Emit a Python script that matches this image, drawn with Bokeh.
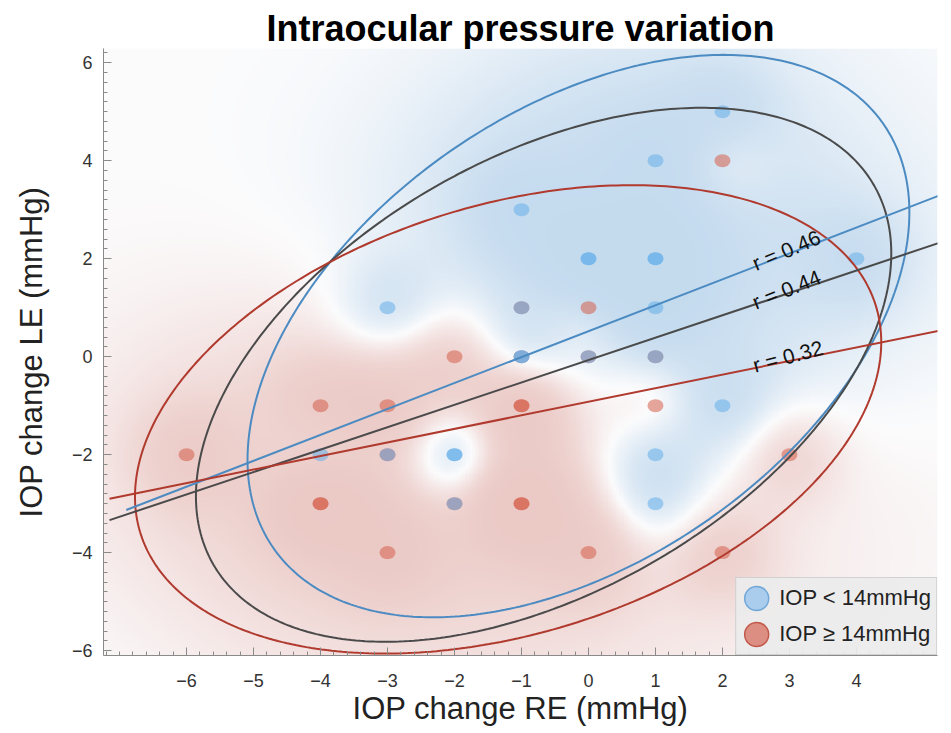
import numpy as np
from bokeh.plotting import figure
from bokeh.models import Range1d, FixedTicker, Legend, LegendItem, Label, Title
from bokeh.embed import file_html
from bokeh.resources import INLINE

# ---------------- data ----------------
blue_x = [2, 1, -1, 0, 0, 1, 1, 4, -3, -1, 1, -1, -1, 0, 1, 2, -4, -3, -2, -2, 1, -2, 1]
blue_y = [5, 4, 3, 2, 2, 2, 2, 2, 1, 1, 1, 0, 0, 0, 0, -1, -2, -2, -2, -2, -2, -3, -3]
red_x = [2, -1, 0, -2, -1, 0, 1, -4, -3, -1, -1, 1, -6, -3, 3, -4, -4, -2, -1, -1, -3, 0, 2]
red_y = [4, 1, 1, 0, 0, 0, 0, -1, -1, -1, -1, -1, -2, -2, -2, -3, -3, -3, -3, -3, -4, -4, -4]

groups = ["IOP < 14mmHg", "All", "IOP ≥ 14mmHg"]
fit_slope = [0.529, 0.457, 0.277]
fit_intercept = [0.52, -0.07, -0.92]
fit_x_start = [-6.9, -7.15, -7.15]
fit_x_end = [5.6, 5.6, 5.6]
r_labels = ["r = 0.46", "r = 0.44", "r = 0.32"]

ell_cx = [-0.15, -0.67, -1.2]
ell_cy = [0.42, -0.37, -1.28]
ell_sx = [4.94, 5.19, 5.57]
ell_sy = [5.74, 5.45, 4.78]
ell_rho = [0.44, 0.455, 0.33]

x_ticks = [-6, -5, -4, -3, -2, -1, 0, 1, 2, 3, 4]
y_ticks = [-6, -4, -2, 0, 2, 4, 6]

# ---------------- styles ----------------
line_colors = ["#4b8bc2", "#4a4a4a", "#b03a2e"]
label_pos = [(2.46, 1.89, 23), (2.46, 1.10, 22), (2.46, -0.18, 15)]
X0, X1, Y0, Y1 = -7.24, 5.21, -6.1, 6.29

p = figure(width=951, height=733, x_range=Range1d(X0, X1), y_range=Range1d(Y0, Y1),
           output_backend="svg", toolbar_location=None,
           min_border_left=103, min_border_right=14, min_border_top=48, min_border_bottom=78)
p.grid.visible = False
p.outline_line_color = None

t = Title(text="Intraocular pressure variation", align="center", offset=7,
          text_font="Liberation Sans", text_font_size="36px", text_font_style="bold",
          text_color="#000000", standoff=0)
p.add_layout(t, "above")

# ---------------- smoothed background field ----------------
nx, ny = 260, 260
gx = np.linspace(X0, X1, nx)
gy = np.linspace(Y0, Y1, ny)
GX, GY = np.meshgrid(gx, gy)


def kde(px, py, s):
    out = np.zeros_like(GX)
    for a, b in zip(px, py):
        out += np.exp(-((GX - a) ** 2 + ((GY - b) * 0.75) ** 2) / (2 * s * s))
    return out


local = kde(blue_x, blue_y, 0.55) - kde(red_x, red_y, 0.55)
broad = kde(blue_x, blue_y, 1.8) - kde(red_x, red_y, 1.8)
v = np.tanh(0.9 * local + 0.35 * broad)
tt = np.abs(v)
blue_t = np.array([178, 208, 234.0])
red_t = np.array([228, 180, 174.0])
white = np.array([252, 252, 253.0])
rgb = np.where(v[..., None] > 0,
               white + (blue_t - white) * tt[..., None] * 0.75,
               white + (red_t - white) * tt[..., None] * 0.7)
img = np.empty((ny, nx), dtype=np.uint32)
view = img.view(dtype=np.uint8).reshape((ny, nx, 4))
view[..., 0] = rgb[..., 0].astype(np.uint8)
view[..., 1] = rgb[..., 1].astype(np.uint8)
view[..., 2] = rgb[..., 2].astype(np.uint8)
view[..., 3] = 255
p.image_rgba(image=[img], x=X0, y=Y0, dw=X1 - X0, dh=Y1 - Y0)

# ---------------- points ----------------
p.ellipse(x=red_x, y=red_y, width=16, height=13, width_units="screen", height_units="screen",
          fill_color="#d65f4b", fill_alpha=0.55, line_color=None)
p.ellipse(x=blue_x, y=blue_y, width=16, height=13, width_units="screen", height_units="screen",
          fill_color="#66aeea", fill_alpha=0.55, line_color=None)

# ---------------- ellipses ----------------
tp = np.linspace(0, 2 * np.pi, 400)
for cx, cy, sx, sy, rho, col in zip(ell_cx, ell_cy, ell_sx, ell_sy, ell_rho, line_colors):
    ex = cx + sx * np.cos(tp)
    ey = cy + sy * (rho * np.cos(tp) + np.sqrt(1 - rho ** 2) * np.sin(tp))
    p.line(ex, ey, line_color=col, line_width=2)

# ---------------- fit lines + r labels ----------------
for m, b, xs, xe, col, lab, (lx, ly, ang) in zip(fit_slope, fit_intercept, fit_x_start, fit_x_end,
                                                  line_colors, r_labels, label_pos):
    p.line([xs, xe], [m * xs + b, m * xe + b], line_color=col, line_width=2)
    p.add_layout(Label(x=lx, y=ly, text=lab, angle=ang, angle_units="deg",
                       text_font="Liberation Sans", text_font_size="21px",
                       text_color="#111111", text_baseline="alphabetic", text_align="left"))

# ---------------- legend (off-frame proxies) ----------------
rb = p.ellipse(x=[-100], y=[-100], width=22, height=22, width_units="screen", height_units="screen",
               fill_color="#aacdee", line_color="#72a8d8", line_width=1.5)
rr = p.ellipse(x=[-100], y=[-100], width=22, height=22, width_units="screen", height_units="screen",
               fill_color="#dd8e82", line_color="#c25a4c", line_width=1.5)
legend = Legend(items=[LegendItem(label=groups[0], renderers=[rb]),
                       LegendItem(label=groups[2], renderers=[rr])],
                location="bottom_right", margin=0, padding=5, spacing=6,
                glyph_width=30, glyph_height=30, label_standoff=8,
                label_text_font="Liberation Sans", label_text_font_size="22px",
                label_text_color="#222222",
                background_fill_color="#ececec", background_fill_alpha=0.92,
                border_line_color="#b5b5b5")
p.add_layout(legend)

# ---------------- axes ----------------
for ax in (p.xaxis[0], p.yaxis[0]):
    ax.axis_line_color = "#8a8a8a"
    ax.major_tick_line_color = "#8a8a8a"
    ax.minor_tick_line_color = "#8a8a8a"
    ax.major_tick_in = 8
    ax.major_tick_out = 0
    ax.minor_tick_in = 4
    ax.minor_tick_out = 0
    ax.major_label_text_font = "Liberation Sans"
    ax.major_label_text_font_size = "18px"
    ax.major_label_text_color = "#333333"
    ax.axis_label_text_font = "Liberation Sans"
    ax.axis_label_text_font_size = "31px"
    ax.axis_label_text_font_style = "normal"
    ax.axis_label_text_color = "#222222"

p.xaxis.ticker = FixedTicker(ticks=x_ticks, minor_ticks=list(np.round(np.arange(-7.2, 5.21, 0.2), 2)))
p.yaxis.ticker = FixedTicker(ticks=y_ticks, minor_ticks=list(np.round(np.arange(-6.0, 6.21, 0.2), 2)))
p.xaxis.major_label_overrides = {k: str(k).replace("-", "\u2212") for k in x_ticks}
p.yaxis.major_label_overrides = {k: str(k).replace("-", "\u2212") for k in y_ticks}
p.xaxis.axis_label = "IOP change RE (mmHg)"
p.yaxis.axis_label = "IOP change LE (mmHg)"
p.xaxis.major_label_standoff = 18
p.yaxis.major_label_standoff = 11
p.xaxis.axis_label_standoff = 1
p.yaxis.axis_label_standoff = 20

open("out.html", "w").write(file_html(p, INLINE))
